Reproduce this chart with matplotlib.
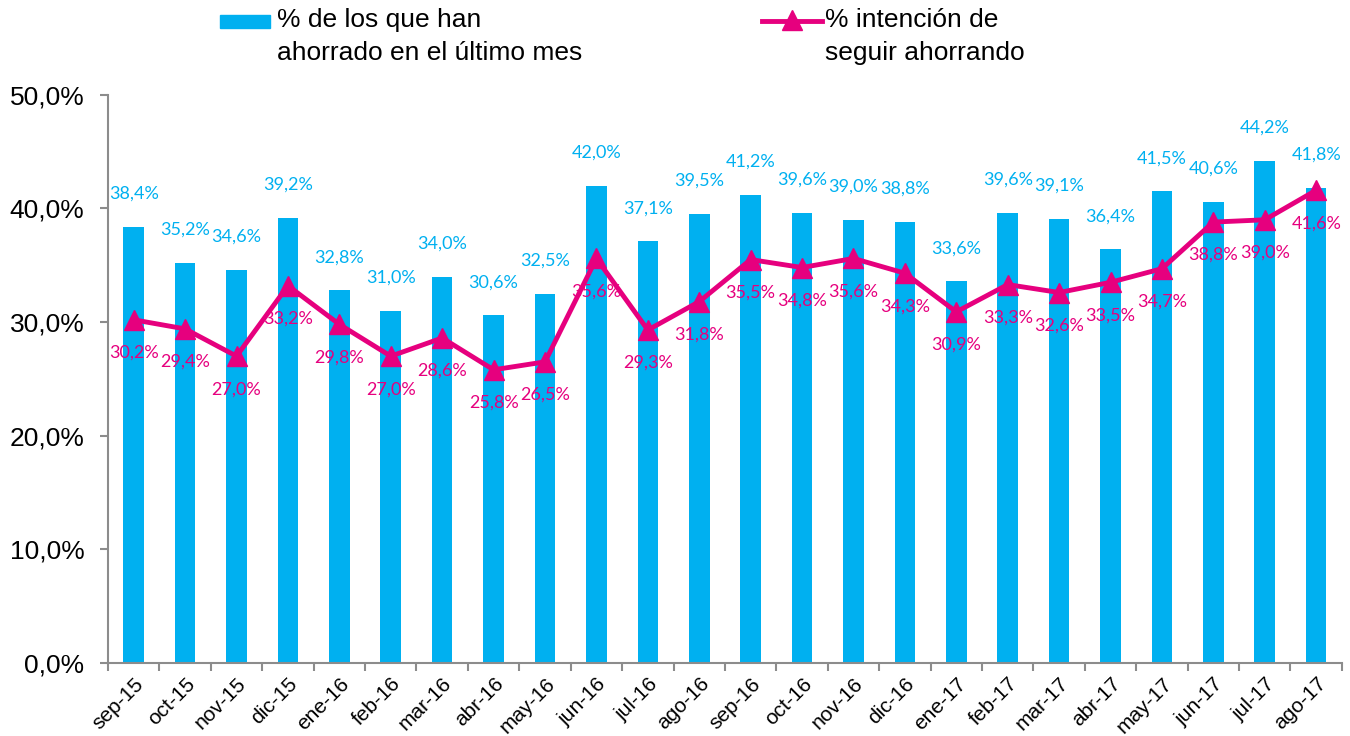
import numpy as np
import matplotlib.pyplot as plt
from matplotlib.patches import Rectangle
from matplotlib.lines import Line2D

months = ['sep-15', 'oct-15', 'nov-15', 'dic-15', 'ene-16', 'feb-16', 'mar-16', 'abr-16',
          'may-16', 'jun-16', 'jul-16', 'ago-16', 'sep-16', 'oct-16', 'nov-16', 'dic-16',
          'ene-17', 'feb-17', 'mar-17', 'abr-17', 'may-17', 'jun-17', 'jul-17', 'ago-17']
ahorrado = [38.4, 35.2, 34.6, 39.2, 32.8, 31.0, 34.0, 30.6, 32.5, 42.0, 37.1, 39.5,
            41.2, 39.6, 39.0, 38.8, 33.6, 39.6, 39.1, 36.4, 41.5, 40.6, 44.2, 41.8]
intencion = [30.2, 29.4, 27.0, 33.2, 29.8, 27.0, 28.6, 25.8, 26.5, 35.6, 29.3, 31.8,
             35.5, 34.8, 35.6, 34.3, 30.9, 33.3, 32.6, 33.5, 34.7, 38.8, 39.0, 41.6]
yticks = [0, 10, 20, 30, 40, 50]

blue = '#00B0F0'
pink = '#E6007E'
grey = '#8C8C8C'

def pct(v):
    return ('%.1f%%' % v).replace('.', ',')

fig = plt.figure(figsize=(13.5, 7.36), dpi=100)
ax = fig.add_axes([0.08, 0.0992, 0.914, 0.772])
x = np.arange(len(months))

ax.bar(x, ahorrado, width=0.4, color=blue, zorder=2)
ax.plot(x, intencion, color=pink, lw=3.5, marker='^', markersize=14, zorder=3)

for i in range(len(x)):
    ax.annotate(pct(ahorrado[i]), (x[i], ahorrado[i]), xytext=(0, 18), textcoords='offset points',
                ha='center', va='bottom', color=blue, fontsize=13, family='Lato')
    ax.annotate(pct(intencion[i]), (x[i], intencion[i]), xytext=(0, -18), textcoords='offset points',
                ha='center', va='top', color=pink, fontsize=13, family='Lato')

ax.set_xlim(-0.5, len(months) - 0.5)
ax.set_ylim(0, 50)
ax.set_yticks(yticks)
ax.set_yticklabels([pct(v) for v in yticks], fontsize=19, family='Liberation Sans')
ax.set_xticks(x)
ax.set_xticklabels(months, rotation=45, ha='right', rotation_mode='anchor',
                   fontsize=15, family='Liberation Sans')
ax.tick_params(axis='x', length=0, pad=8)
ax.set_xticks(np.arange(-0.5, len(months), 1), minor=True)
ax.tick_params(axis='x', which='minor', length=6, color=grey, width=1.5)
ax.tick_params(axis='y', length=6, color=grey, width=1.5, pad=11)
for s in ['top', 'right']:
    ax.spines[s].set_visible(False)
for s in ['left', 'bottom']:
    ax.spines[s].set_color(grey)
    ax.spines[s].set_linewidth(1.5)

# legend drawn by hand to match the layout
fig.patches.append(Rectangle((220 / 1350, 1 - 28 / 736), 50 / 1350, 13 / 736,
                             transform=fig.transFigure, color=blue))
fig.text(277 / 1350, 1 - 8 / 736, '% de los que han\nahorrado en el último mes', va='top',
         fontsize=19, family='Liberation Sans', linespacing=1.45)
fig.lines.append(Line2D([762 / 1350, 822 / 1350], [1 - 21 / 736, 1 - 21 / 736],
                        transform=fig.transFigure, color=pink, lw=3.5))
fig.lines.append(Line2D([792 / 1350], [1 - 20 / 736], transform=fig.transFigure,
                        color=pink, marker='^', markersize=14))
fig.text(825 / 1350, 1 - 8 / 736, '% intención de\nseguir ahorrando', va='top',
         fontsize=19, family='Liberation Sans', linespacing=1.45)

fig.savefig('out.png', dpi=100)
